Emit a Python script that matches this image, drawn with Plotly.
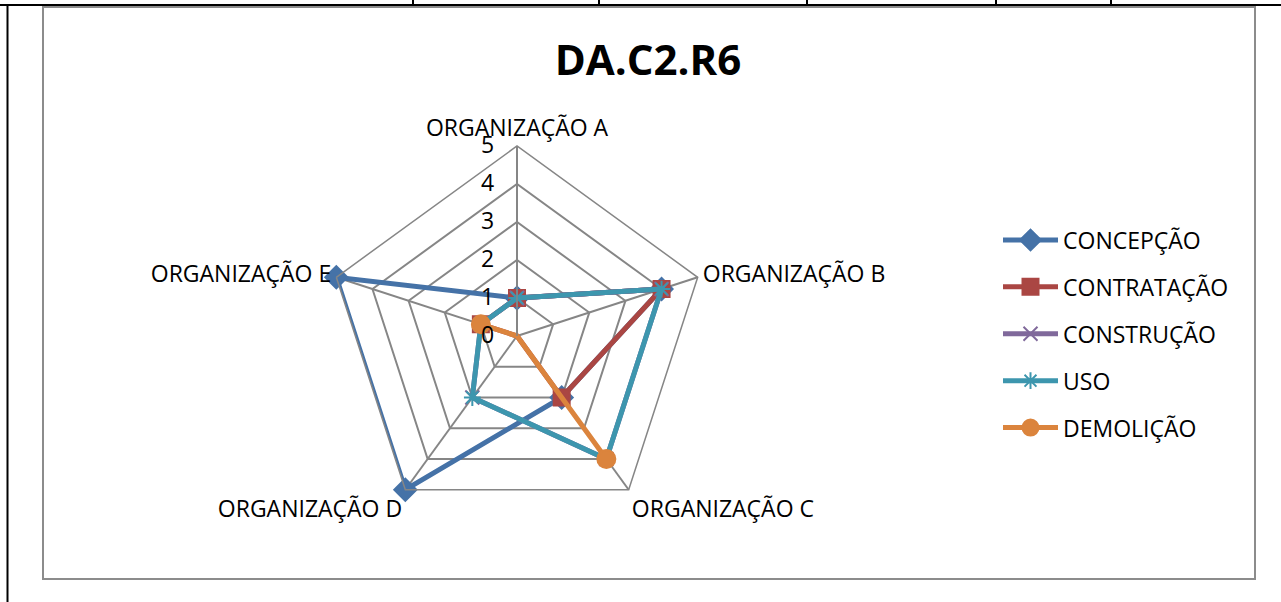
import plotly.graph_objects as go

categories = ["ORGANIZAÇÃO A", "ORGANIZAÇÃO B", "ORGANIZAÇÃO C", "ORGANIZAÇÃO D", "ORGANIZAÇÃO E"]
concepcao = [1, 4, 2, 5, 5]
contratacao = [1, 4, 2, 0, 1]
construcao = [1, 4, 4, 2, 1]
uso = [1, 4, 4, 2, 1]
demolicao = [0, 0, 4, 0, 1]
series_names = ["CONCEPÇÃO", "CONTRATAÇÃO", "CONSTRUÇÃO", "USO", "DEMOLIÇÃO"]
radial_ticks = [0, 1, 2, 3, 4, 5]
title_text = "DA.C2.R6"

W, H = 1281, 602
colors = ["#4572A7", "#AA4643", "#80699B", "#3D96AE", "#DB843D"]
symbols = ["diamond", "square", "x-thin-open", "asterisk-open", "circle"]
sizes = [17, 16, 14, 14, 18]
values = [concepcao, contratacao, construcao, uso, demolicao]

fig = go.Figure()
for i, (name, vals) in enumerate(zip(series_names, values)):
    fig.add_trace(go.Scatterpolar(
        r=vals + vals[:1],
        theta=categories + categories[:1],
        mode="lines+markers",
        name=name,
        legendgroup=name,
        line=dict(color=colors[i], width=5),
        marker=dict(symbol=symbols[i], size=sizes[i], color=colors[i],
                    line=dict(color=colors[i], width=2)),
    ))

def px(x):
    return x / W

def py(y):
    return 1 - y / H

cx, cy, R = 517, 336, 190
shapes = []
# table lines
shapes.append(dict(type="line", xref="paper", yref="paper", x0=0, x1=1, y0=py(5), y1=py(5),
                   line=dict(color="black", width=2)))
shapes.append(dict(type="line", xref="paper", yref="paper", x0=px(7.5), x1=px(7.5), y0=py(5), y1=0,
                   line=dict(color="black", width=2)))
for xv in [413, 599, 807, 996, 1111]:
    shapes.append(dict(type="line", xref="paper", yref="paper", x0=px(xv), x1=px(xv), y0=1, y1=py(5),
                       line=dict(color="black", width=2)))
# chart border
shapes.append(dict(type="rect", xref="paper", yref="paper", x0=px(43), x1=px(1255), y0=py(7), y1=py(579),
                   line=dict(color="#8C8C8C", width=2)))

fig.update_layout(
    width=W, height=H,
    margin=dict(l=0, r=0, t=0, b=0),
    paper_bgcolor="white",
    font=dict(family="Open Sans, sans-serif", color="black", size=23),
    title=dict(text="<b>" + title_text + "</b>", x=px(648), xanchor="center", y=py(60), yanchor="middle",
               font=dict(size=42, family="Open Sans, sans-serif", color="black")),
    polar=dict(
        domain=dict(x=[px(cx - R), px(cx + R)], y=[py(cy + R), py(cy - R)]),
        bgcolor="white",
        gridshape="linear",
        angularaxis=dict(rotation=90, direction="clockwise", showline=True, linecolor="#868686",
                         linewidth=1.5, showgrid=True, gridcolor="#868686", gridwidth=1.5,
                         ticks="", tickfont=dict(size=23, color="black")),
        radialaxis=dict(range=[0, 5], tickvals=radial_ticks, angle=90, side="counterclockwise",
                        showline=True, linecolor="#868686", linewidth=1.5, showgrid=True,
                        gridcolor="#868686", gridwidth=1.5, ticks="outside", ticklen=14,
                        tickcolor="rgba(0,0,0,0)",
                        tickfont=dict(size=23, color="black"), tickangle=90),
    ),
    legend=dict(x=px(998), xanchor="left", y=py(334), yanchor="middle",
                font=dict(size=23, color="black"), tracegroupgap=14, itemwidth=55,
                bgcolor="rgba(0,0,0,0)"),
    shapes=shapes,
)

fig.write_html("out.html", config={"displayModeBar": False},
               post_script="document.body.style.margin='0';")
